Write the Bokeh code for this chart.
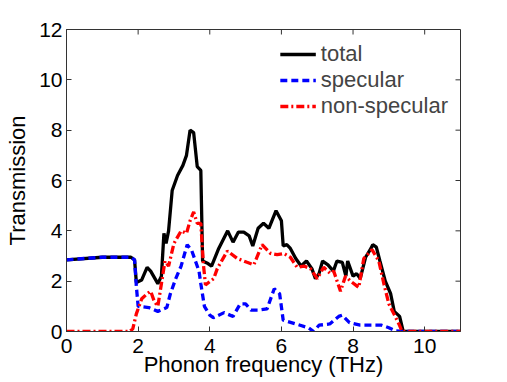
import math
from bokeh.plotting import figure
from bokeh.models import Legend, LegendItem, Range1d, FixedTicker
from bokeh.embed import file_html
from bokeh.resources import INLINE

# ---- data ----
total_x = [0, 1.0, 1.8, 1.9, 1.95, 2.1, 2.25, 2.35, 2.55, 2.65, 2.72, 2.78, 2.85, 2.95, 3.1,
           3.25, 3.35, 3.45, 3.55, 3.65, 3.75, 3.8, 3.95, 4.05, 4.25, 4.5, 4.65, 4.8, 4.95, 5.1,
           5.2, 5.35, 5.5, 5.65, 5.85, 6.0, 6.05, 6.15, 6.25, 6.4, 6.55, 6.7, 6.85, 6.95, 7.05,
           7.15, 7.3, 7.45, 7.55, 7.7, 7.8, 7.85, 8.0, 8.1, 8.2, 8.35, 8.5, 8.55, 8.65, 8.75,
           8.9, 9.05, 9.15, 9.3, 9.4, 11.0]
total_y = [2.85, 2.95, 2.95, 2.85, 1.95, 2.05, 2.55, 2.4, 1.9, 2.2, 3.9, 3.5, 4.0, 5.6, 6.2,
           6.6, 7.0, 8.0, 7.9, 6.55, 6.4, 2.8, 2.7, 2.6, 3.3, 4.0, 3.55, 3.95, 3.95, 3.8,
           3.4, 4.1, 4.3, 4.1, 4.8, 4.4, 3.4, 3.45, 3.3, 2.9, 2.6, 2.8, 2.5, 2.1, 2.3,
           2.8, 2.65, 2.4, 2.8, 2.75, 2.2, 2.8, 2.2, 2.3, 2.1, 2.95, 3.3, 3.45, 3.35, 2.8,
           2.0, 1.5, 0.8, 0.6, 0.0, 0.0]

spec_x = [0, 1.0, 1.8, 1.9, 1.95, 2.0, 2.3, 2.55, 2.8, 2.9, 3.05, 3.2, 3.37, 3.5, 3.6,
          3.7, 3.75, 3.85, 4.0, 4.1, 4.4, 4.65, 4.85, 5.0, 5.15, 5.35, 5.6, 5.8, 5.95, 6.05,
          6.4, 6.75, 6.9, 7.05, 7.35, 7.6, 7.7, 7.9, 8.2, 8.5, 8.8, 9.0, 9.2, 9.4, 11.0]
spec_y = [2.85, 2.95, 2.95, 2.85, 1.8, 1.0, 0.95, 0.8, 0.95, 1.5, 2.1, 2.6, 3.45, 3.2, 2.8,
          2.4, 1.9, 1.0, 0.65, 0.55, 0.75, 0.6, 1.1, 1.1, 0.85, 0.85, 0.9, 1.7, 1.5, 0.45,
          0.3, 0.15, 0.0, 0.25, 0.3, 0.6, 0.65, 0.35, 0.25, 0.25, 0.25, 0.15, 0.02, 0.0, 0.0]

ns_x = [0, 1.75, 1.85, 1.95, 2.1, 2.25, 2.35, 2.45, 2.55, 2.65, 2.75, 2.85, 3.0, 3.2, 3.35,
        3.45, 3.55, 3.65, 3.75, 3.82, 3.88, 4.11, 4.21, 4.49, 4.77, 5.04, 5.23, 5.46, 5.70, 5.88,
        6.07, 6.25, 6.44, 6.63, 6.81, 7.0, 7.18, 7.37, 7.46, 7.65, 7.79, 7.93, 8.16, 8.30, 8.53,
        8.72, 8.86, 9.0, 9.14, 9.28, 9.37, 11.0]
ns_y = [0, 0, 0.1, 0.7, 1.3, 1.5, 1.6, 1.2, 1.0, 1.9, 2.8, 2.6, 3.5, 4.0, 3.9,
        4.4, 4.75, 4.3, 4.3, 2.7, 1.85, 2.1, 2.5, 3.2, 2.9, 2.75, 2.65, 3.45, 3.1, 3.05,
        3.1, 2.95, 2.55, 2.6, 2.5, 2.1, 2.55, 2.3, 2.4, 1.6, 2.2, 2.0, 1.75, 2.9, 3.25,
        2.8, 1.9, 1.1, 0.7, 0.3, 0.0, 0.0]

x_ticks = [0, 2, 4, 6, 8, 10]
y_ticks = [0, 2, 4, 6, 8, 10, 12]
x_max = 11
y_max = 12
series_labels = ["total", "specular", "non-specular"]

FONT = "Liberation Sans"
AX = "#333333"

p = figure(width=507, height=382, output_backend="svg", toolbar_location=None,
           x_range=Range1d(0, x_max), y_range=Range1d(0, y_max),
           min_border_left=66, min_border_top=29, min_border_right=47, min_border_bottom=51)
p.grid.visible = False
p.outline_line_color = AX
p.outline_line_width = 1

for ax in (p.xaxis[0], p.yaxis[0]):
    ax.major_tick_in = 5
    ax.major_tick_out = 0
    ax.minor_tick_line_color = None
    ax.axis_line_color = AX
    ax.major_tick_line_color = AX
    ax.major_label_text_font = FONT
    ax.major_label_text_font_size = "21px"
    ax.major_label_text_color = "black"
    ax.axis_label_text_font = FONT
    ax.axis_label_text_font_size = "22px"
    ax.axis_label_text_font_style = "normal"
    ax.axis_label_text_color = "black"

p.xaxis.ticker = FixedTicker(ticks=x_ticks)
p.yaxis.ticker = FixedTicker(ticks=y_ticks)
p.xaxis.axis_label = "Phonon frequency (THz)"
p.yaxis.axis_label = "Transmission"
p.xaxis.major_label_standoff = 7
p.xaxis.axis_label_standoff = -4
p.yaxis.major_label_standoff = 4
p.yaxis.axis_label_standoff = 6

# mirrored inward ticks on top and right edges (from the tick lists)
p.ray(x=x_ticks, y=[y_max] * len(x_ticks), length=5, length_units="screen",
      angle=-math.pi / 2, line_color=AX, line_width=1)
p.ray(x=[x_max] * len(y_ticks), y=y_ticks, length=5, length_units="screen",
      angle=math.pi, line_color=AX, line_width=1)

r_total = p.line(total_x, total_y, line_color="black", line_width=3.3)
r_spec = p.line(spec_x, spec_y, line_color="#0000ff", line_width=3.3, line_dash="7 4")
r_ns = p.line(ns_x, ns_y, line_color="#ff0000", line_width=3.3, line_dash="8 3 2 3")

legend = Legend(items=[LegendItem(label=series_labels[0], renderers=[r_total]),
                       LegendItem(label=series_labels[1], renderers=[r_spec]),
                       LegendItem(label=series_labels[2], renderers=[r_ns])],
                location="top_right", border_line_alpha=0, background_fill_alpha=0,
                label_text_font=FONT, label_text_font_size="22px",
                glyph_width=36, glyph_height=20, label_height=20, spacing=0,
                label_standoff=5, padding=4, margin=8)
p.add_layout(legend)

open("out.html", "w").write(file_html(p, INLINE))
